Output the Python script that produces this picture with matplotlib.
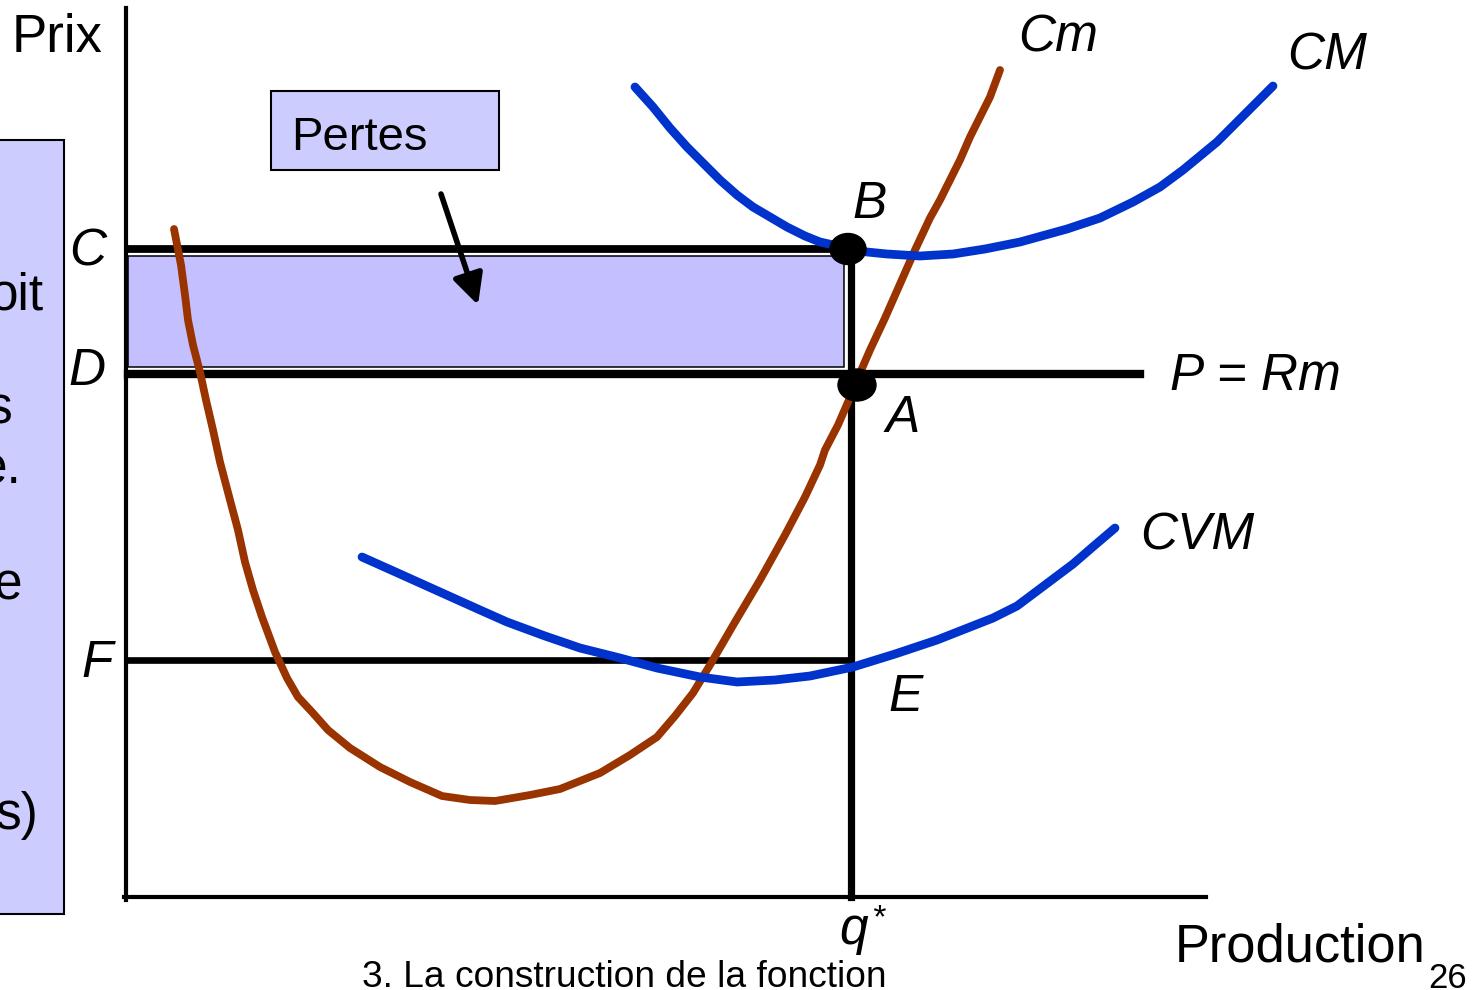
"""Perte de court terme : prix sous le coût moyen mais au-dessus du CVM."""

import matplotlib
matplotlib.use("Agg")
from matplotlib import pyplot as plt
from matplotlib.patches import Rectangle, Ellipse

plt.rcParams["font.family"] = ["Liberation Sans", "DejaVu Sans"]

BLUE = "#0033cc"
BROWN = "#993300"
LOSS_FILL = "#c4bfff"
BOX_FILL = "#ccccff"

# Coût marginal (Cm):
cm_q = [48, 55, 59, 62, 67, 74, 80, 87, 94, 104, 112, 119, 127, 136, 149, 161,
        172, 186, 202, 224, 254, 284, 316, 344, 369, 404, 434, 474, 504, 531,
        549, 567, 584, 609, 634, 659, 679, 694, 699, 712, 722, 731, 744, 759,
        774, 789, 804, 814, 824, 834, 844, 854, 864, 874]
cm_p = [668, 632, 602, 577, 552, 525, 497, 467, 435, 397, 367, 335, 307, 280,
        245, 219, 200, 185, 167, 149, 130, 115, 101, 97, 96, 102, 108, 124,
        142, 160, 181, 204, 232, 275, 317, 362, 400, 432, 447, 472, 495, 517,
        547, 579, 613, 647, 679, 697, 717, 737, 760, 780, 800, 827]

# Coût moyen (CM):
cmoy_q = [509, 527, 544, 561, 579, 594, 611, 627, 644, 661, 679, 694, 721, 741,
          761, 794, 827, 859, 894, 941, 974, 1007, 1034, 1057, 1091, 1117, 1147]
cmoy_p = [810, 790, 769, 750, 732, 717, 702, 690, 680, 670, 661, 655, 649, 645,
          643, 641, 643, 648, 655, 668, 679, 695, 710, 727, 755, 781, 811]

# Coût variable moyen (CVM):
cvm_q = [236, 274, 314, 354, 381, 419, 454, 494, 531, 574, 611, 649, 684, 727,
         769, 811, 867, 891, 919, 947, 969, 989]
cvm_p = [340, 323, 305, 287, 275, 261, 249, 239, 229, 220, 215, 217, 221, 230,
         243, 257, 279, 291, 312, 333, 352, 369]

# Niveaux remarquables:
q_star = 725
price_c = 648
price_d = 523
price_f = 237
price_a = 512
x_max = 1080
y_max = 889
rm_end = 1014

# Texte tronqué de l'encadré de gauche:
left_lines = ["oit", "s", "e.", "e", "s)"]
left_right = [-82, -114, -104, -104, -88]
left_base = [587, 473, 413, 298, 68]


# Figure setup:
fig = plt.figure(figsize=(14.83, 9.9), dpi=100)
ax = fig.add_axes([0, 0, 1, 1])
ax.set_xlim(-126, 1357)
ax.set_ylim(-93, 897)
ax.axis("off")

# Encadré de gauche (tronqué):
ax.add_patch(Rectangle((-140, -17), 78, 774, facecolor=BOX_FILL,
                       edgecolor="black", lw=1.5, zorder=1))
for txt, xr, yb in zip(left_lines, left_right, left_base):
    ax.text(xr, yb, txt, fontsize=37, ha="right", va="baseline", zorder=2)

# Zone de pertes:
ax.add_patch(Rectangle((2, 530), 716, 111, facecolor=LOSS_FILL,
                       edgecolor="black", lw=1.1, zorder=2))

# Axes:
ax.plot([0, 0], [-3, y_max], color="black", lw=3, zorder=3)
ax.plot([-2, x_max], [0, 0], color="black", lw=3, zorder=3)

# Lignes de niveau:
ax.plot([2, 722], [price_c, price_c], color="black", lw=5.6, zorder=3)
ax.plot([2, rm_end], [price_d, price_d], color="black", lw=6, zorder=3)
ax.plot([2, q_star], [price_f, price_f], color="black", lw=4.8, zorder=3)
ax.plot([q_star, q_star], [0, price_c], color="black", lw=5.2, zorder=3)

# Courbes:
ax.plot(cm_q, cm_p, color=BROWN, lw=5.6, solid_capstyle="round",
        solid_joinstyle="round", zorder=4)
ax.plot(cmoy_q, cmoy_p, color=BLUE, lw=6.3, solid_capstyle="round",
        solid_joinstyle="round", zorder=4)
ax.plot(cvm_q, cvm_p, color=BLUE, lw=6.3, solid_capstyle="round",
        solid_joinstyle="round", zorder=4)

# Points B et A:
ax.add_patch(Ellipse((722, price_c), 36, 31, color="black", zorder=5))
ax.add_patch(Ellipse((731, price_a), 38, 32, color="black", zorder=5))

# Boîte "Pertes" et flèche:
ax.add_patch(Rectangle((145, 727), 228, 79, facecolor=BOX_FILL,
                       edgecolor="black", lw=1.5, zorder=3))
ax.text(165, 747, "Pertes", fontsize=34, va="baseline", zorder=4)
ax.annotate("", xy=(352, 592), xytext=(315, 703),
            arrowprops=dict(arrowstyle="-|>", lw=4, color="black",
                            mutation_scale=46, shrinkA=0, shrinkB=0),
            zorder=5)

# Étiquettes:
labels = [
    ("C", -38, 632), ("D", -39, 512), ("F", -29, 220),
    ("B", 744, 679), ("A", 777, 465), ("E", 780, 186),
    ("Cm", 932, 845), ("CM", 1201, 827), ("P = Rm", 1129, 507),
    ("CVM", 1071, 347), ("q", 728, -47),
]
for txt, x, y in labels:
    ax.text(x, y, txt, fontsize=37, style="italic", ha="center",
            va="baseline", zorder=6)
ax.text(752, -22, "*", fontsize=24, style="italic", ha="center",
        va="center", zorder=6)

ax.text(-114, 845, "Prix", fontsize=38, va="baseline")
ax.text(1049, -65, "Production", fontsize=37.8, va="baseline")
ax.text(1302, -91, "26", fontsize=25, va="baseline")
ax.text(236, -90, "3. La construction de la fonction", fontsize=26.7,
        va="baseline")

fig.savefig("out.png", dpi=100)
